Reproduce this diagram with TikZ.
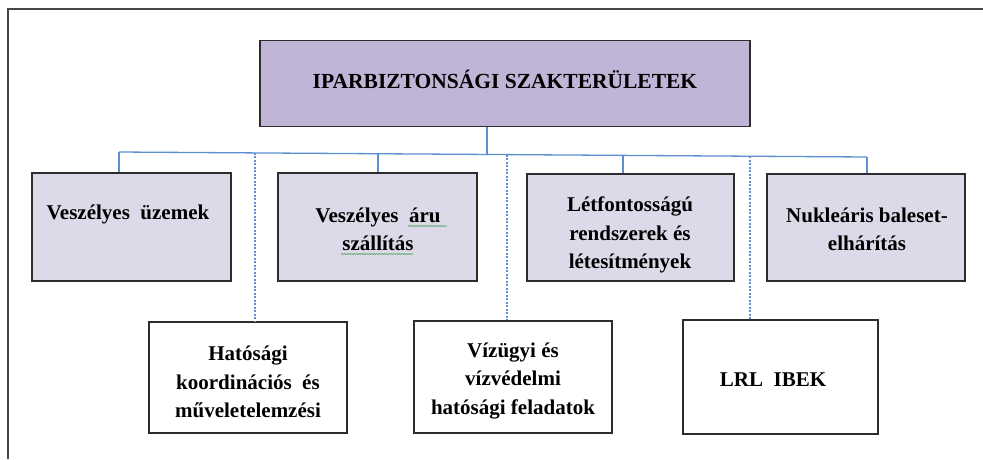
\documentclass[tikz,border=0pt]{standalone}
\usepackage{fontspec}
\setmainfont{Liberation Serif}
\usetikzlibrary{decorations.pathmorphing}
\definecolor{topfill}{RGB}{192,181,214}
\definecolor{boxfill}{RGB}{222,217,232}
\definecolor{linkblue}{RGB}{91,143,208}
\definecolor{boxline}{RGB}{45,45,45}
\definecolor{framecol}{RGB}{70,70,70}
\definecolor{spell}{RGB}{90,170,110}
\begin{document}
\begin{tikzpicture}[x=1pt,y=-1pt,
  box/.style={draw=boxline, line width=1.5pt, inner sep=0pt, fill=boxfill},
  wbox/.style={draw=boxline, line width=1.5pt, inner sep=0pt, fill=white},
  txt/.style={inner sep=0pt, align=center, font=\bfseries\fontsize{21}{28.5}\selectfont},
  link/.style={draw=linkblue, line width=1.3pt},
  dlink/.style={draw=linkblue, line width=1.3pt, dash pattern=on 2pt off 1.5pt},
  wavy/.style={draw=spell, line width=0.6pt, decorate, decoration={snake, amplitude=0.6pt, segment length=2.5pt}}]
\useasboundingbox (0,0) rectangle (983,459);
% frame
\coordinate (fTL) at (8,9);
\coordinate (fTR) at (983,9);
\coordinate (fBL) at (8,459);
\draw[framecol, line width=2pt] (fBL) -- (fTL) -- (fTR);
% top box
\node[box, fill=topfill, minimum width=490pt, minimum height=86pt] (top) at (505,83.5) {};
\node[txt, font=\bfseries\fontsize{21.5}{24}\selectfont] (ttop) at (505,79) {IPARBIZTONSÁGI SZAKTERÜLETEK};
% row 1
\node[box, minimum width=199pt, minimum height=108pt] (b1) at (131.5,227) {};
\node[box, minimum width=199pt, minimum height=108pt] (b2) at (377.5,227) {};
\node[box, minimum width=207pt, minimum height=107pt] (b3) at (630.5,227.5) {};
\node[box, minimum width=198pt, minimum height=107pt] (b4) at (866,227.5) {};
\node[txt] (t1) at (128,214) {Veszélyes\ \ üzemek};
\node[txt] (t2) at (378,229.5) {Veszélyes\ \ áru\\szállítás};
\node[txt] (t3) at (630,235) {Létfontosságú\\rendszerek és\\létesítmények};
\node[txt] (t4) at (867,229.5) {Nukleáris baleset-\\elhárítás};
\draw[wavy] (408,226) -- (447,226);
\draw[wavy] (341,254) -- (413,254);
% row 2
\node[wbox, minimum width=198pt, minimum height=111pt] (c1) at (248,377.5) {};
\node[wbox, minimum width=198pt, minimum height=112pt] (c2) at (513,377) {};
\node[wbox, minimum width=195pt, minimum height=114pt] (c3) at (780.5,377) {};
\node[txt] (u1) at (248,382) {Hatósági\\koordinációs\ \ és\\műveletelemzési};
\node[txt] (u2) at (513,381) {Vízügyi és\\vízvédelmi\\hatósági feladatok};
\node[txt] (u3) at (773,380) {LRL\ \ IBEK};
% bus
\coordinate (busL) at (119,152);
\coordinate (busR) at (867,157);
\coordinate (j0) at (487,154.5);
\coordinate (j1) at (119,152);
\coordinate (j2) at (378,153.7);
\coordinate (j3) at (623,155.4);
\coordinate (j4) at (867,157);
\coordinate (d1) at (255,152.9);
\coordinate (d2) at (507,154.6);
\coordinate (d3) at (750,156.2);
\draw[link] (busL) -- (busR);
\draw[link] (top.south -| j0) -- (j0);
\draw[link] (j1) -- (j1 |- b1.north);
\draw[link] (j2) -- (j2 |- b2.north);
\draw[link] (j3) -- (j3 |- b3.north);
\draw[link] (j4) -- (j4 |- b4.north);
\draw[dlink] (d1) -- (d1 |- c1.north);
\draw[dlink] (d2) -- (d2 |- c2.north);
\draw[dlink] (d3) -- (d3 |- c3.north);
\end{tikzpicture}
\end{document}
